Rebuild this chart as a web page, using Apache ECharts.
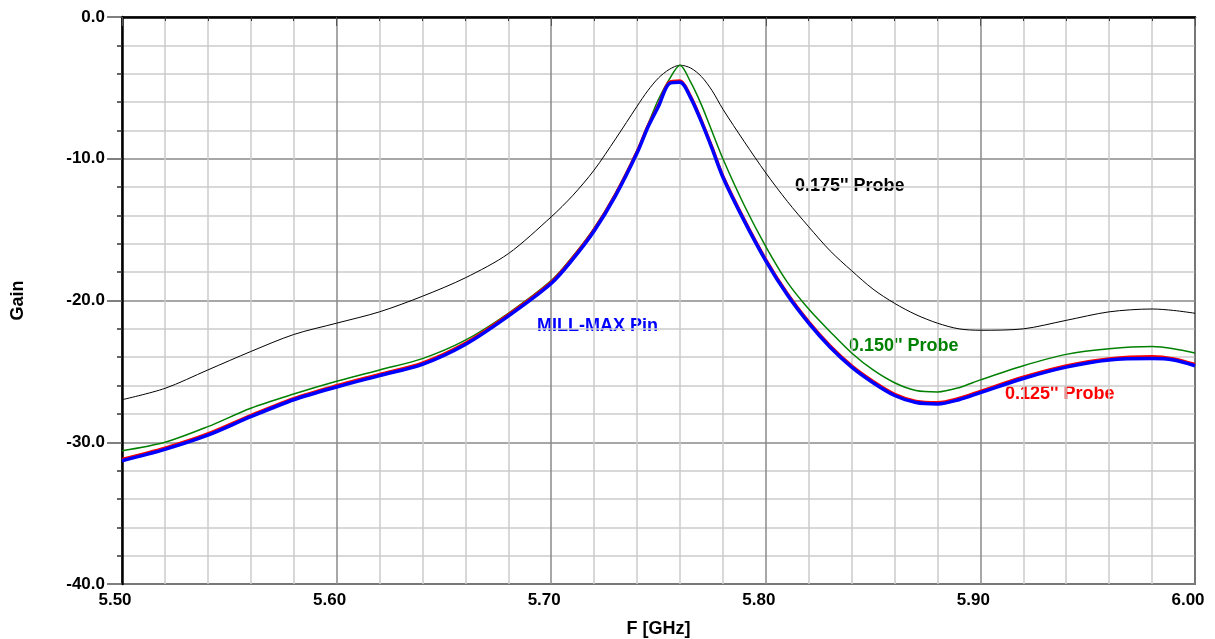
<!DOCTYPE html>
<html>
<head>
<meta charset="utf-8">
<title>Gain vs F</title>
<script src="https://cdn.jsdelivr.net/npm/echarts@6/dist/echarts.min.js"></script>
<style>
html, body { margin: 0; padding: 0; background: #fff; }
#gain { width: 1215px; height: 639px; }
</style>
</head>
<body>
<div id="gain"></div>
<script>
// frequency points, GHz
var freq = [5.50, 5.52, 5.54, 5.56, 5.58, 5.60, 5.62, 5.64, 5.66, 5.68, 5.70,
	5.71, 5.72, 5.73, 5.74, 5.745, 5.75, 5.755, 5.76, 5.765, 5.77, 5.775, 5.78,
	5.79, 5.80, 5.81, 5.82, 5.83, 5.84, 5.85, 5.86, 5.87, 5.88, 5.89, 5.90,
	5.92, 5.94, 5.96, 5.98, 5.99, 6.00];

// gain, dB
var probe175 = [-27.0, -26.2, -24.9, -23.6, -22.4, -21.6, -20.8, -19.7, -18.4, -16.7, -14.1,
	-12.6, -10.8, -8.6, -6.3, -5.2, -4.3, -3.7, -3.4, -3.6, -4.2, -5.2, -6.5,
	-8.8, -11.0, -13.0, -14.8, -16.5, -17.9, -19.2, -20.2, -21.0, -21.6, -22.0, -22.1,
	-22.0, -21.4, -20.8, -20.6, -20.7, -20.9];

var probe150 = [-30.6, -30.0, -28.9, -27.6, -26.6, -25.7, -24.9, -24.1, -22.8, -20.9, -18.6,
	-16.9, -14.9, -12.4, -9.4, -7.6, -5.8, -4.4, -3.4, -4.6, -6.2, -8.1, -10.0,
	-13.3, -16.2, -18.7, -20.6, -22.2, -23.7, -24.9, -25.8, -26.35, -26.45, -26.15, -25.6,
	-24.6, -23.8, -23.4, -23.25, -23.4, -23.7];

var probe125 = [-31.2, -30.4, -29.4, -28.1, -26.9, -26.0, -25.2, -24.4, -23.0, -21.0, -18.7,
	-17.0, -15.0, -12.5, -9.5, -7.7, -6.2, -4.6, -4.5, -5.6, -7.3, -9.2, -11.2,
	-14.3, -17.1, -19.5, -21.5, -23.2, -24.6, -25.7, -26.6, -27.1, -27.2, -26.9, -26.4,
	-25.4, -24.6, -24.1, -23.95, -24.1, -24.5];

var millMax = [-31.3, -30.5, -29.5, -28.2, -27.0, -26.1, -25.3, -24.5, -23.1, -21.1, -18.8,
	-17.1, -15.1, -12.6, -9.6, -7.8, -6.3, -4.7, -4.6, -5.7, -7.4, -9.3, -11.3,
	-14.4, -17.2, -19.6, -21.6, -23.3, -24.7, -25.8, -26.7, -27.2, -27.3, -27.0, -26.5,
	-25.5, -24.7, -24.2, -24.1, -24.2, -24.6];

function pairs(ys) {
	var out = [];
	for (var i = 0; i < freq.length; i++) out.push([freq[i], ys[i]]);
	return out;
}

var font = 'Liberation Sans, Arial, sans-serif';

function curve(name, ys, color, width) {
	return {
		name: name,
		type: 'line',
		data: pairs(ys),
		showSymbol: false,
		smooth: 0.3,
		lineStyle: { color: color, width: width },
		emphasis: { disabled: true }
	};
}

function note(text, x, y, color) {
	return {
		type: 'text',
		left: x,
		top: y - 10,
		style: { text: text, fill: color, font: 'bold 18px ' + font }
	};
}

var e = echarts.init(document.getElementById('gain'));
var a = {
	animation: false,
	grid: {
		left: 122,
		right: 20,
		top: 17,
		bottom: 55,
		outerBoundsMode: 'none',
		show: true,
		borderColor: '#000',
		borderWidth: 1.5
	},
	xAxis: {
		type: 'value',
		min: 5.5,
		max: 6.0,
		interval: 0.1,
		name: 'F [GHz]',
		nameLocation: 'middle',
		nameGap: 36,
		nameTextStyle: { color: '#000', fontFamily: font, fontWeight: 'bold', fontSize: 18 },
		axisLine: { lineStyle: { color: '#000', width: 2.5 } },
		axisTick: { length: 9, lineStyle: { color: '#555', width: 1 } },
		minorTick: { show: true, splitNumber: 5, length: 4, lineStyle: { color: '#333' } },
		axisLabel: {
			margin: 8,
			color: '#000',
			fontFamily: font,
			fontWeight: 'bold',
			fontSize: 17,
			padding: [0, 14, 0, 0],
			formatter: function(v) { return v.toFixed(2); }
		},
		splitLine: { lineStyle: { color: '#8a8a8a', width: 1.5 } },
		minorSplitLine: { show: true, lineStyle: { color: '#cccccc', width: 1.5 } }
	},
	yAxis: {
		type: 'value',
		min: -40,
		max: 0,
		interval: 10,
		name: 'Gain',
		nameLocation: 'middle',
		nameGap: 95,
		nameTextStyle: { color: '#000', fontFamily: font, fontWeight: 'bold', fontSize: 18 },
		axisLine: { show: true, lineStyle: { color: '#000', width: 2.5 } },
		axisTick: { length: 15, lineStyle: { color: '#555', width: 1.5 } },
		minorTick: { show: true, splitNumber: 5, length: 5, lineStyle: { color: '#333', width: 1.5 } },
		axisLabel: {
			margin: 17,
			color: '#000',
			fontFamily: font,
			fontWeight: 'bold',
			fontSize: 17,
			formatter: function(v) { return v.toFixed(1); }
		},
		splitLine: { lineStyle: { color: '#8a8a8a', width: 1.5 } },
		minorSplitLine: { show: true, lineStyle: { color: '#cccccc', width: 1.5 } }
	},
	series: [
		curve("0.175'' Probe", probe175, '#000000', 1),
		curve("0.150'' Probe", probe150, '#008000', 1.5),
		curve("0.125'' Probe", probe125, '#ff0000', 3),
		curve('MILL-MAX Pin', millMax, '#0000ff', 3.5)
	],
	graphic: [
		note("0.175'' Probe", 795, 187, '#000000'),
		note("0.150'' Probe", 849, 347, '#008000'),
		note("0.125'' Probe", 1005, 395, '#ff0000'),
		note('MILL-MAX Pin', 537, 327, '#0000ff')
	]
};
e.setOption(a);
window.addEventListener('resize', function() { e.resize(); });
</script>
</body>
</html>
